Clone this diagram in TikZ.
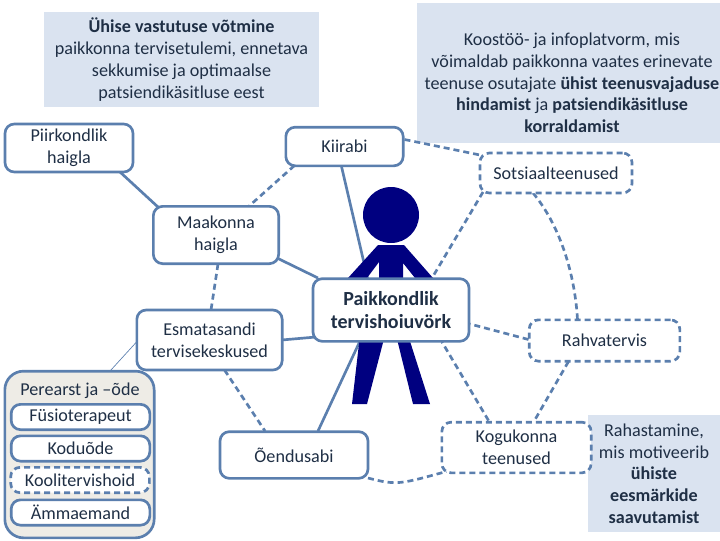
\documentclass[tikz,border=0pt]{standalone}
\usepackage{fontspec}
\setmainfont{Carlito}
\pgfdeclarelayer{back}
\pgfsetlayers{back,main}
\definecolor{edge}{HTML}{5B7FAE}
\definecolor{txt}{HTML}{1F2F45}
\definecolor{pale}{HTML}{DAE3F0}
\definecolor{sand}{HTML}{EEECE6}
\definecolor{fig}{HTML}{000080}
\tikzset{
  x=0.75pt,y=-0.75pt,
  every node/.style={font=\fontsize{13.6}{16.3}\selectfont,text=txt,align=center},
  box/.style={draw=edge,line width=2pt,fill=white,rounded corners=7pt,inner sep=0pt,minimum width=#1},
  dbox/.style={box=#1,dash pattern=on 4.5pt off 3pt},
  link/.style={draw=edge,line width=2pt},
  dlink/.style={link,dash pattern=on 4.5pt off 3pt},
  hairlink/.style={draw=edge,line width=0.5pt},
  note/.style={fill=pale,inner sep=0pt},
  big/.style={font=\fontsize{15}{17.5}\selectfont\bfseries},
}
\begin{document}
\begin{tikzpicture}
\useasboundingbox (0,0) rectangle (720,540);
% nodes
\node[box=96pt,minimum height=36pt] (piir) at (69,148) {Piirkondlik\\haigla};
\node[box=88pt,minimum height=29pt] (kiir) at (344.5,146.5) {Kiirabi};
\node[dbox=114pt,minimum height=30pt] (sots) at (556,173) {Sotsiaalteenused};
\node[box=94pt,minimum height=43pt] (maak) at (216,235) {Maakonna\\haigla};
\node[box=109pt,minimum height=45pt] (esma) at (209.5,340) {Esmatasandi\\tervisekeskused};
\node[box=117pt,minimum height=47pt,big] (paik) at (391,310) {Paikkondlik\\tervishoiuvörk};
\node[dbox=113pt,minimum height=31pt] (rahv) at (604.5,340.5) {Rahvatervis};
\node[dbox=112pt,minimum height=38pt] (kogu) at (516.5,447.5) {Kogukonna\\teenused};
\node[box=111pt,minimum height=35pt] (oend) at (294,455) {Õendusabi};
% group
\node[draw=edge,line width=2pt,fill=sand,rounded corners=14pt,minimum width=112pt,minimum height=125pt,inner sep=0pt] (grp) at (79.5,454.5) {};
\node (pere) at (80,391) {Perearst ja –õde};
\node[box=104pt,minimum height=19pt] (fysi) at (80.5,417) {Füsioterapeut};
\node[box=104pt,minimum height=19pt] (kodu) at (80.5,448.5) {Koduõde};
\node[dbox=104pt,minimum height=19pt] (kool) at (80,480) {Koolitervishoid};
\node[box=104pt,minimum height=19pt] (amma) at (80.5,512.5) {Ämmaemand};
\begin{pgfonlayer}{back}
% notes
\node[note,minimum width=206.25pt,minimum height=71.25pt] (n1) at (181.5,59.5) {\textbf{Ühise vastutuse võtmine}\\paikkonna tervisetulemi, ennetava\\sekkumise ja optimaalse\\patsiendikäsitluse eest};
\node[note,minimum width=227.25pt,minimum height=105pt] (n2) at (568.5,72.5) {};
\node[inner sep=0pt] (n2t) at (572,83) {Koostöö- ja infoplatvorm, mis\\võimaldab paikkonna vaates erinevate\\teenuse osutajate \textbf{ühist teenusvajaduse}\\\textbf{hindamist} ja \textbf{patsiendikäsitluse}\\\textbf{korraldamist}};
\node[note,minimum width=99pt,minimum height=87.75pt] (n3) at (654,473.5) {Rahastamine,\\mis motiveerib\\\textbf{ühiste}\\\textbf{eesmärkide}\\\textbf{saavutamist}};
% connectors
\draw[link] ([shift={(51,24)}]piir.center) -- ([shift={(-58,-28)}]maak.center);
\draw[dlink] ([shift={(-50,19)}]kiir.center) -- ([shift={(32,-28)}]maak.center);
\draw[link] ([shift={(-3,20)}]kiir.center) -- ([shift={(-23,-30)}]paik.center);
\draw[dlink] ([shift={(60,-7)}]kiir.center) -- ([shift={(-76,-18)}]sots.center);
\draw[dlink] ([shift={(-73,19)}]sots.center) -- ([shift={(41,-32)}]paik.center);
\draw[link] ([shift={(61,23)}]maak.center) -- ([shift={(-73,-32)}]paik.center);
\draw[dlink] ([shift={(2,29)}]maak.center) -- ([shift={(1.5,-30)}]esma.center);
\draw[link] ([shift={(72,0)}]esma.center) -- ([shift={(-75,27)}]paik.center);
\draw[dlink] ([shift={(15,30)}]esma.center) -- ([shift={(-29,-24)}]oend.center);
\draw[link] ([shift={(24,-24)}]oend.center) -- ([shift={(-31,31)}]paik.center);
\draw[dlink] ([shift={(74,23)}]oend.center) .. controls +(30,8) and +(-45,12) .. ([shift={(-70,24)}]kogu.center);
\draw[dlink] ([shift={(-28,-27)}]kogu.center) -- ([shift={(51,32)}]paik.center);
\draw[dlink] ([shift={(-76,-1)}]rahv.center) -- ([shift={(79,14)}]paik.center);
\draw[dlink] ([shift={(-36,21)}]rahv.center) -- ([shift={(18,-27)}]kogu.center);
\draw[dlink] ([shift={(-23,20)}]sots.center) .. controls +(25,30) and +(-3,-50) .. ([shift={(-27,-21)}]rahv.center);
\draw[hairlink] ([shift={(-73,2)}]esma.center) -- ([shift={(31,-84)}]grp.center);
% figure
\fill[fig] (391,215) circle [radius=28];
\fill[fig] (378,245) -- (404,245) -- (433,278) -- (415,278) -- (403,263) -- (403,300) -- (379,300) -- (379,262) -- (367,278) -- (348,278) -- cycle;
\fill[fig] (360,335) -- (385,335) -- (367,404) -- (352,404) -- cycle;
\fill[fig] (396,335) -- (408,335) -- (430,404) -- (413,404) -- cycle;
\end{pgfonlayer}
\end{tikzpicture}
\end{document}
